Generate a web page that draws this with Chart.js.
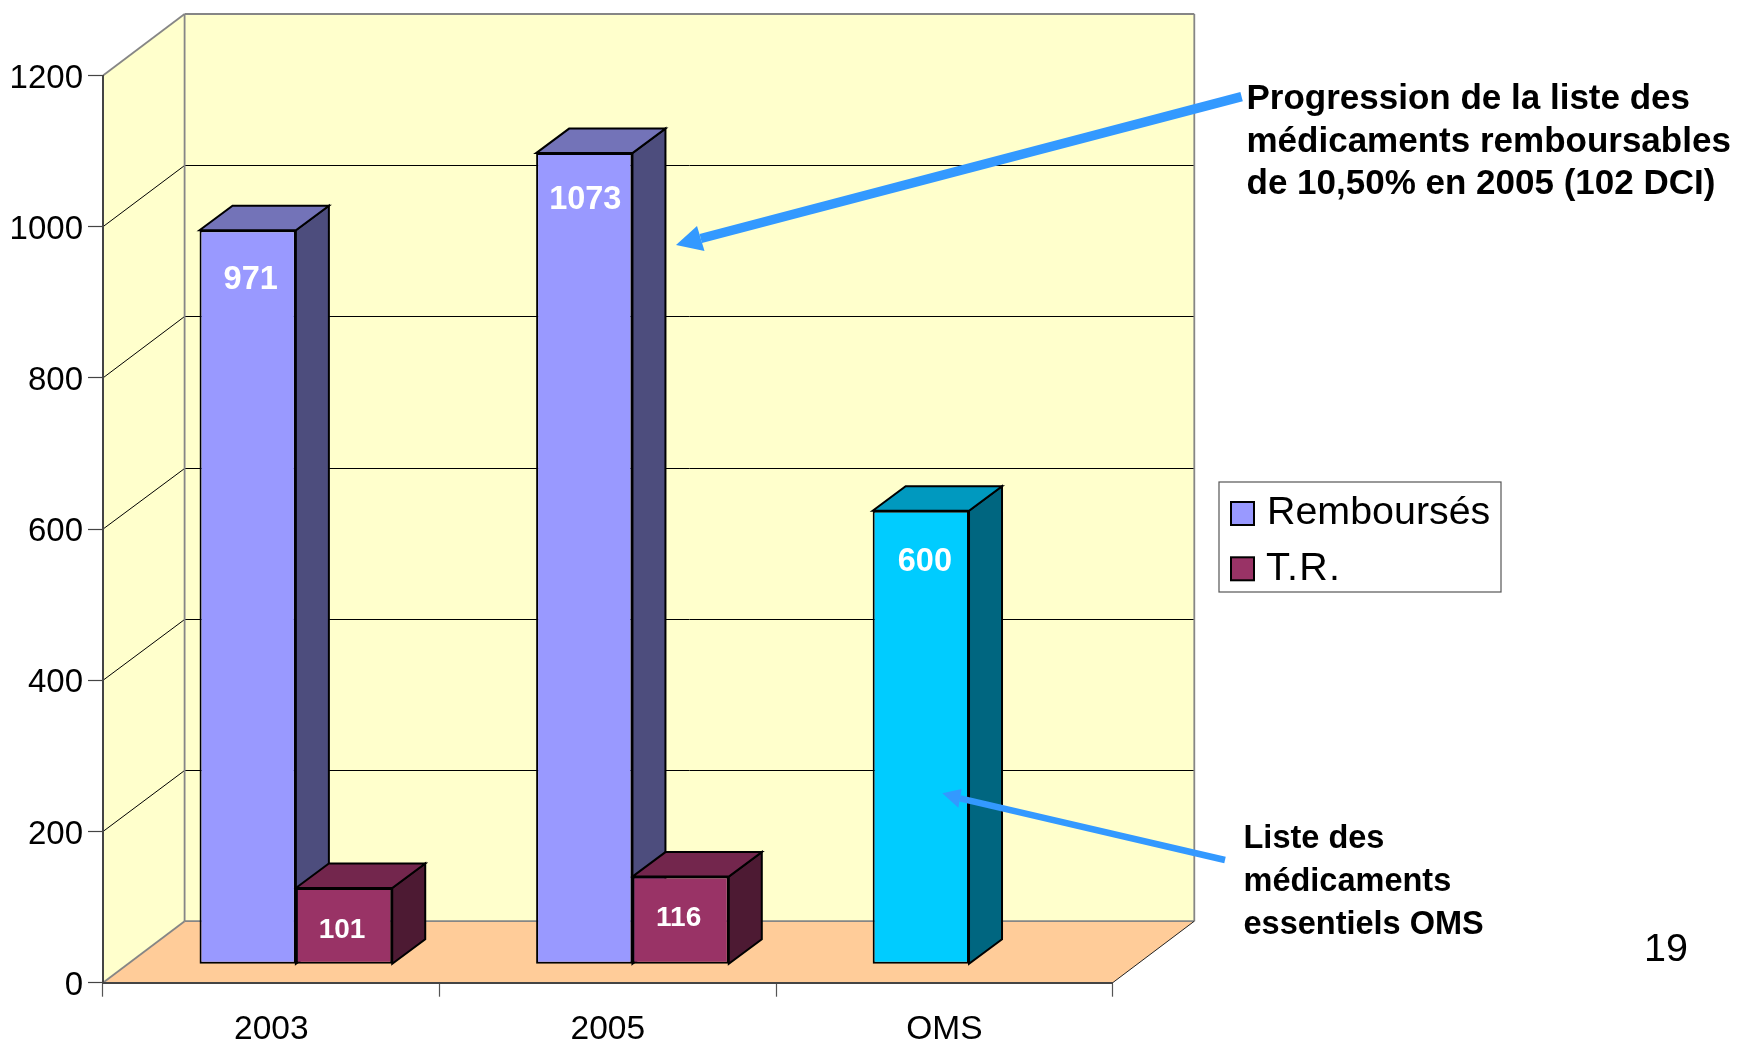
<!DOCTYPE html>
<html>
<head>
<meta charset="utf-8">
<script src="https://cdn.jsdelivr.net/npm/chart.js@4"></script>
<style>html,body{margin:0;padding:0;background:#fff;overflow:hidden}canvas{display:block}</style>
</head>
<body>
<canvas id="c" width="1739" height="1043"></canvas>
<script>
const categories = ['2003', '2005', 'OMS'];
const rembourses = [971, 1073, 600];
const tr = [101, 116, null];
const yTickMax = 1200;
const yTickStep = 200;
const seriesNames = ['Remboursés', 'T.R.'];
const noteTop = ['Progression de la liste des', 'médicaments remboursables', 'de 10,50% en 2005 (102 DCI)'];
const noteBottom = ['Liste des', 'médicaments', 'essentiels OMS'];
const pageNumber = '19';

const FONT = '"Liberation Sans", Arial, sans-serif';
const palette = {
  rem: {front: '#9999ff', side: '#4d4d7d', top: '#7373b8'},
  tr: {front: '#993366', side: '#4d1a33', top: '#73264d'},
  oms: {front: '#00ccff', side: '#006680', top: '#0099bf'}
};
const wall = {dx: 81.6, dy: 61.5};
const barPlane = {dx: 24.6, dy: 18.4};
const barDepth = {dx: 33, dy: 24.5};
const labelNudge = [[3, 3], [1, 0], [4, 4], [-2, 1], [-2, 1]];

function poly(ctx, pts, fill, stroke, lw) {
  ctx.beginPath();
  pts.forEach((p, i) => i ? ctx.lineTo(p[0], p[1]) : ctx.moveTo(p[0], p[1]));
  ctx.closePath();
  if (fill) { ctx.fillStyle = fill; ctx.fill(); }
  if (stroke) { ctx.strokeStyle = stroke; ctx.lineWidth = lw; ctx.lineJoin = 'miter'; ctx.stroke(); }
}
function line(ctx, x1, y1, x2, y2, color, lw) {
  ctx.beginPath(); ctx.moveTo(x1, y1); ctx.lineTo(x2, y2);
  ctx.strokeStyle = color; ctx.lineWidth = lw; ctx.stroke();
}
function arrow(ctx, from, tip, a, b, width, color) {
  const mid = [(a[0] + b[0]) / 2, (a[1] + b[1]) / 2];
  line(ctx, from[0], from[1], mid[0], mid[1], color, width);
  poly(ctx, [tip, a, b], color);
}

const scene = {
  id: 'scene',
  beforeDraw(chart) {
    const ctx = chart.ctx, {x, y} = chart.scales;
    const L = x.left, R = x.right, B = y.getPixelForValue(0), T = y.getPixelForValue(yTickMax);
    const {dx, dy} = wall;
    ctx.save();
    poly(ctx, [[L, B], [L, T], [L + dx, T - dy], [L + dx, B - dy]], '#ffffcc');
    poly(ctx, [[L + dx, T - dy], [R + dx, T - dy], [R + dx, B - dy], [L + dx, B - dy]], '#ffffcc');
    poly(ctx, [[L, B], [L + dx, B - dy], [R + dx, B - dy], [R, B]], '#ffcc99');
    for (let v = yTickStep; v < yTickMax; v += yTickStep) {
      const py = y.getPixelForValue(v);
      const by = Math.round(py - dy) + 0.5;
      line(ctx, L, py, L + dx, by, '#000', 1);
      line(ctx, L + dx, by, R + dx, by, '#000', 1);
    }
    const g = '#868686';
    line(ctx, L, T, L + dx, T - dy, g, 1.8);
    line(ctx, L + dx, T - dy, R + dx, T - dy, g, 1.8);
    line(ctx, L + dx, T - dy, L + dx, B - dy, g, 1.8);
    line(ctx, R + dx, T - dy, R + dx, B - dy, g, 1.8);
    line(ctx, L + dx, B - dy, R + dx, B - dy, g, 1.8);
    line(ctx, L, B, L + dx, B - dy, g, 1.8);
    line(ctx, R, B, R + dx, B - dy, '#222', 1);
    ctx.restore();
  },
  beforeDatasetsDraw(chart) {
    const ctx = chart.ctx;
    ctx.save();
    ctx.translate(barPlane.dx, -barPlane.dy);
    const {dx, dy} = barDepth;
    chart.data.datasets.forEach((ds, di) => {
      chart.getDatasetMeta(di).data.forEach((el, i) => {
        if (el.skip || ds.data[i] == null) return;
        const p = el.getProps(['x', 'y', 'base', 'width'], true);
        const l = p.x - p.width / 2, r = p.x + p.width / 2;
        const key = di === 1 ? 'tr' : (categories[i] === 'OMS' ? 'oms' : 'rem');
        poly(ctx, [[r, p.y], [r + dx, p.y - dy], [r + dx, p.base - dy], [r, p.base]], palette[key].side, '#000', 2);
        poly(ctx, [[l, p.y], [l + dx, p.y - dy], [r + dx, p.y - dy], [r, p.y]], palette[key].top, '#000', 2);
      });
    });
  },
  afterDatasetsDraw(chart) {
    const ctx = chart.ctx;
    let n = 0;
    ctx.textAlign = 'center';
    ctx.textBaseline = 'middle';
    chart.data.datasets.forEach((ds, di) => {
      chart.getDatasetMeta(di).data.forEach((el, i) => {
        if (ds.data[i] == null) return;
        const p = el.getProps(['x', 'y'], true);
        const nudge = labelNudge[n++];
        ctx.font = 'bold ' + (di === 1 ? 28 : 32.5) + 'px ' + FONT;
        const gap = di === 1 ? 41 : 47;
        ctx.fillStyle = '#fff';
        ctx.fillText(String(ds.data[i]), p.x + nudge[0], p.y + gap + nudge[1]);
      });
    });
    ctx.restore();
  },
  afterDraw(chart) {
    const ctx = chart.ctx;
    ctx.save();
    // arrows
    arrow(ctx, [1241.6, 96.7], [676, 245], [697, 226], [704.5, 251], 9.5, '#3399ff');
    arrow(ctx, [1225, 860], [942.3, 793.3], [961.7, 789], [958.3, 807.7], 6.5, '#3399ff');
    // notes
    ctx.fillStyle = '#000';
    ctx.textAlign = 'left';
    ctx.textBaseline = 'alphabetic';
    ctx.font = 'bold 35px ' + FONT;
    noteTop.forEach((t, i) => ctx.fillText(t, 1246.5, 109 + i * 42.7));
    ctx.font = 'bold 32.5px ' + FONT;
    noteBottom.forEach((t, i) => ctx.fillText(t, 1243.5, 848 + i * 43));
    ctx.font = '39.5px ' + FONT;
    ctx.fillText(pageNumber, 1644, 961);
    // legend
    ctx.fillStyle = '#fff';
    ctx.strokeStyle = '#555';
    ctx.lineWidth = 1.2;
    ctx.fillRect(1219, 482, 282, 110);
    ctx.strokeRect(1219, 482, 282, 110);
    const swatches = [palette.rem.front, palette.tr.front];
    const rows = [{y: 502, base: 524, tx: 1267, sp: '0px'}, {y: 557.3, base: 580, tx: 1266, sp: '1.3px'}];
    seriesNames.forEach((name, i) => {
      ctx.fillStyle = swatches[i];
      ctx.fillRect(1231, rows[i].y, 23, 23);
      ctx.strokeStyle = '#000';
      ctx.lineWidth = 2;
      ctx.strokeRect(1231, rows[i].y, 23, 23);
      ctx.fillStyle = '#000';
      ctx.font = '39.4px ' + FONT;
      ctx.letterSpacing = rows[i].sp;
      ctx.fillText(name, rows[i].tx, rows[i].base);
      ctx.letterSpacing = '0px';
    });
    ctx.restore();
  }
};

new Chart(document.getElementById('c'), {
  type: 'bar',
  data: {
    labels: categories,
    datasets: [
      {label: seriesNames[0], data: rembourses,
       backgroundColor: categories.map(c => c === 'OMS' ? palette.oms.front : palette.rem.front)},
      {label: seriesNames[1], data: tr, backgroundColor: palette.tr.front}
    ]
  },
  options: {
    responsive: false,
    animation: false,
    devicePixelRatio: 1,
    layout: {padding: {left: 0, top: 75.5, right: 626.3, bottom: 0}},
    elements: {bar: {borderColor: '#000', borderWidth: 2, borderSkipped: false}},
    datasets: {bar: {categoryPercentage: 0.5725, barPercentage: 1, clip: false}},
    plugins: {legend: {display: false}, tooltip: {enabled: false}, title: {display: false}},
    scales: {
      x: {
        offset: true,
        afterFit(s) { s.height = 60.3; },
        border: {color: '#444', width: 2},
        grid: {drawOnChartArea: false, drawTicks: true, tickLength: 14, color: '#555', tickWidth: 1.2},
        ticks: {color: '#000', font: {family: FONT, size: 33.5}, padding: 13, maxRotation: 0, autoSkip: false}
      },
      y: {
        min: 0, max: yTickMax,
        afterFit(s) { s.width = 103; },
        border: {color: '#444', width: 2},
        grid: {drawOnChartArea: false, drawTicks: true, tickLength: 15, color: '#444', tickWidth: 1.2},
        ticks: {stepSize: yTickStep, color: '#000', font: {family: FONT, size: 33}, padding: 5, labelOffset: 3,
                callback: v => String(v)}
      }
    }
  },
  plugins: [scene]
});
</script>
</body>
</html>
